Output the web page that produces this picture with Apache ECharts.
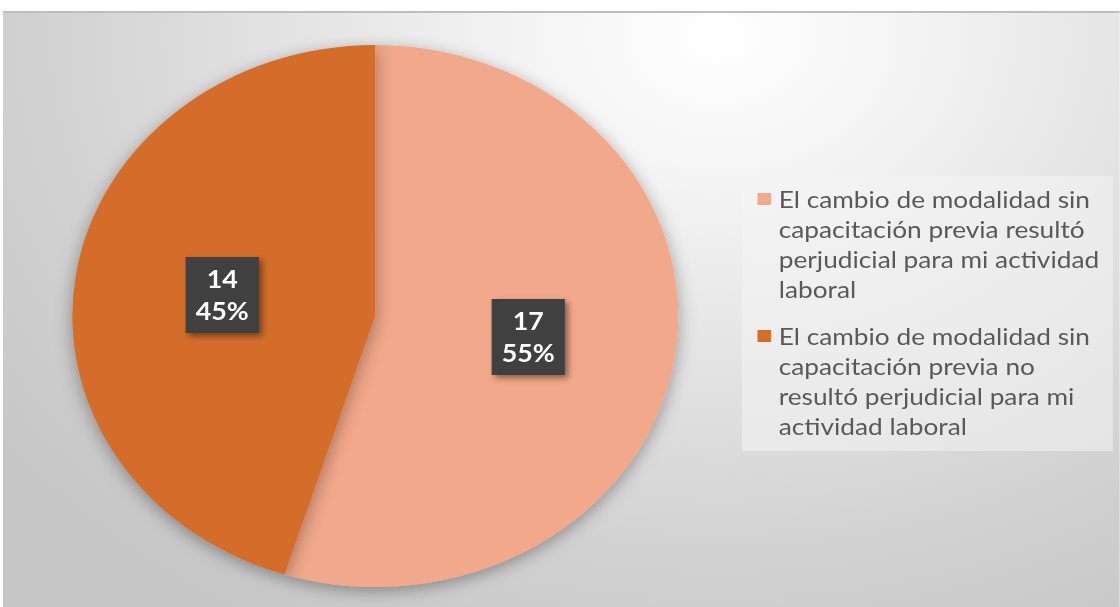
<!DOCTYPE html>
<html>
<head>
<meta charset="utf-8">
<script src="https://cdn.jsdelivr.net/npm/echarts@6/dist/echarts.min.js"></script>
<style>
  html, body { margin: 0; padding: 0; background: #fff; overflow: hidden; }
  /* the original picture is stretched sideways, so the chart is drawn narrow and scaled */
  #chart {
    position: absolute;
    left: 3px;
    top: 11px;
    width: 999px;
    height: 596px;
    transform: scaleX(1.1178);
    transform-origin: left top;
    background: radial-gradient(ellipse 80% 115% at 64% 4%, #ffffff 0%, #f6f6f6 18%, #e2e2e2 50%, #d2d2d2 75%, #c6c6c6 100%);
    border-top: 2px solid #bdbdbd;
    box-sizing: border-box;
  }
</style>
</head>
<body>
<div id="chart"></div>
<script>
var categories = [
  'El cambio de modalidad sin\ncapacitación previa resultó\nperjudicial para mi actividad\nlaboral',
  'El cambio de modalidad sin\ncapacitación previa no\nresultó perjudicial para mi\nactividad laboral'
];
var values = [17, 14];
var colors = ['#F2A88A', '#D46D29'];

var chart = echarts.init(document.getElementById('chart'), null, { renderer: 'svg' });

// legend square sits on the first text line, so it is drawn as rich text
var rich = { sp: { width: 19 } };
colors.forEach(function (c, i) {
  rich['sq' + i] = { width: 12, height: 12, backgroundColor: c, verticalAlign: 'middle' };
  rich['gap' + i] = { width: 7 };
});

var option = {
  animation: false,
  color: colors,
  legend: {
    orient: 'vertical',
    left: 661,
    top: 163,
    padding: [8, 12, 10, 8],
    itemGap: 17,
    itemWidth: 1,
    itemHeight: 1,
    icon: 'rect',
    itemStyle: { opacity: 0 },
    backgroundColor: 'rgba(244,244,244,0.55)',
    formatter: function (name) {
      var i = categories.indexOf(name);
      return name.split('\n').map(function (line, k) {
        return (k === 0 ? '{sq' + i + '|}{gap' + i + '|}' : '{sp|}') + line;
      }).join('\n');
    },
    textStyle: {
      fontFamily: 'Lato',
      fontSize: 23.5,
      lineHeight: 30,
      color: '#595959',
      rich: rich
    },
    data: categories
  },
  series: [{
    type: 'pie',
    center: [333, 303],
    radius: 271,
    startAngle: 90,
    clockwise: true,
    silent: true,
    itemStyle: {
      shadowBlur: 16,
      shadowColor: 'rgba(0,0,0,0.35)',
      shadowOffsetY: 4
    },
    label: {
      show: true,
      position: 'inside',
      formatter: function (p) { return p.value + '\n' + Math.round(p.percent) + '%'; },
      fontFamily: 'Lato',
      fontWeight: 'bold',
      fontSize: 24,
      lineHeight: 32,
      color: '#ffffff',
      backgroundColor: '#404040',
      padding: [6, 9, 6, 9],
      shadowColor: 'rgba(0,0,0,0.45)',
      shadowBlur: 6,
      shadowOffsetX: 3,
      shadowOffsetY: 3
    },
    labelLine: { show: false },
    data: categories.map(function (c, i) {
      return { name: c, value: values[i] };
    })
  }]
};

chart.setOption(option);
</script>
</body>
</html>
